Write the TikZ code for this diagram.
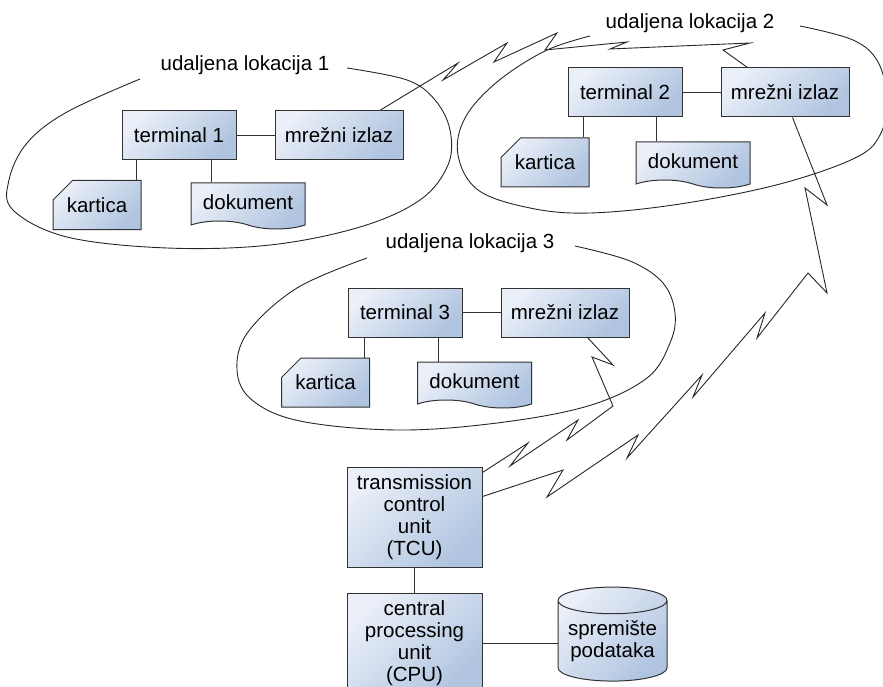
\documentclass[tikz,border=0pt]{standalone}
\usepackage{fontspec}
\setmainfont{Liberation Sans}
\usetikzlibrary{shapes.misc,shapes.symbols,shapes.geometric}
\definecolor{boxlight}{RGB}{234,239,248}
\definecolor{boxdark}{RGB}{176,196,224}
\definecolor{edge}{RGB}{50,50,50}
\begin{document}
\begin{tikzpicture}[x=1pt,y=-1pt,
	every node/.style={font=\fontsize{20.5}{22}\selectfont},
	blok/.style={draw=edge,line width=1pt,top color=boxlight,bottom color=boxdark,shading angle=45,inner sep=0pt,minimum height=49pt},
	term/.style={blok,minimum width=114pt},
	gate/.style={blok,minimum width=128pt},
	card/.style={blok,chamfered rectangle,chamfered rectangle corners=north west,chamfered rectangle xsep=12pt,chamfered rectangle ysep=12pt,minimum width=88pt},
	doc/.style={blok,tape,tape bend top=none,tape bend bottom=out and in,tape bend height=8pt,minimum width=114pt,minimum height=46pt},
	unitbox/.style={blok,minimum width=135pt,minimum height=100pt,align=center},
	wire/.style={draw=edge,line width=0.9pt},
	ring/.style={draw=black!85,line width=0.9pt},
	flash/.style={draw=black!85,line width=0.9pt}]
	\useasboundingbox (0,0) rectangle (883,687);
	\clip (0,0) rectangle (883,687);
	\node (l1) at (245,65) {udaljena lokacija 1};
	\node (l2) at (690,23) {udaljena lokacija 2};
	\node (l3) at (470,243) {udaljena lokacija 3};
	\draw[ring] plot[smooth,tension=0.6] coordinates {(140,79) (67,112) (27,143) (9,180) (13,210) (67,237) (167,248) (270,245) (360,227) (420,200) (448,165) (450,130) (435,100) (407,80) (347,68)};
	\draw[ring] plot[smooth,tension=0.6] coordinates {(590,36) (545,51) (497,82) (465,118) (458,155) (478,190) (530,208) (590,213) (680,204) (780,184) (855,158) (880,135) (887,100) (878,62) (853,40) (800,26)};
	\draw[ring] plot[smooth,tension=0.6] coordinates {(367,258) (297,288) (248,332) (237,370) (252,400) (300,421) (397,430) (497,423) (588,406) (647,378) (670,343) (675,313) (663,283) (630,261) (575,246)};
	\node[term] (t1) at (179,135) {terminal 1};
	\node[gate] (m1) at (339,135) {mrežni izlaz};
	\node[card] (k1) at (97,205) {kartica};
	\node[doc] (d1) at (248,202) {dokument};
	\node[term] (t2) at (625,92.5) {terminal 2};
	\node[gate] (m2) at (785,92.5) {mrežni izlaz};
	\node[card] (k2) at (545,162.5) {kartica};
	\node[doc] (d2) at (693,161) {dokument};
	\node[term] (t3) at (405,312.5) {terminal 3};
	\node[gate] (m3) at (565,312.5) {mrežni izlaz};
	\node[card] (k3) at (325.5,382.5) {kartica};
	\node[doc] (d3) at (474.5,381) {dokument};
	\node[unitbox] (tcu) at (414.5,517) {transmission\\control\\unit\\(TCU)};
	\node[unitbox] (cpu) at (414.5,643) {central\\processing\\unit\\(CPU)};
	\node[blok,cylinder,shape border rotate=90,aspect=0.3,minimum width=109pt,minimum height=94pt,align=center] (db) at (612.5,641) {spremište\\podataka};
	\draw[wire] (t1) -- (m1);
	\draw[wire] ([xshift=-5pt]k1.north east) -- ([xshift=-5pt]k1.north east |- t1.south);
	\draw[wire] ([xshift=21pt]d1.north west) -- ([xshift=21pt]d1.north west |- t1.south);
	\draw[wire] (t2) -- (m2);
	\draw[wire] ([xshift=-6pt]k2.north east) -- ([xshift=-6pt]k2.north east |- t2.south);
	\draw[wire] ([xshift=21pt]d2.north west) -- ([xshift=21pt]d2.north west |- t2.south);
	\draw[wire] (t3) -- (m3);
	\draw[wire] ([xshift=-6pt]k3.north east) -- ([xshift=-6pt]k3.north east |- t3.south);
	\draw[wire] ([xshift=21pt]d3.north west) -- ([xshift=21pt]d3.north west |- t3.south);
	\draw[wire] (tcu) -- (cpu);
	\draw[wire] (cpu.east) -- (cpu.east -| db.west);
	\draw[flash] ([xshift=-23pt]m1.north east) -- (458,63) -- (443,80) -- (507,43) -- (494,62) -- (557,33) -- (545,50) -- (627,42) -- (610,49) -- (750,43) -- (723,50) -- ([xshift=27pt]m2.north west);
	\draw[flash] ([xshift=72pt]m2.south west) -- (827,205) -- (805,188) -- (827,293) -- (808,273) -- (757,338) -- (765,313) -- (693,397) -- (702,375) -- (627,458) -- (638,435) -- (547,497) -- (563,470) -- ([yshift=-30pt]tcu.north east);
	\draw[flash] ([xshift=87pt]m3.south west) -- (613,365) -- (592,357) -- (613,406) -- (567,440) -- (578,420) -- (510,466) -- (528,443) -- ([yshift=-6pt]tcu.north east);
\end{tikzpicture}
\end{document}
